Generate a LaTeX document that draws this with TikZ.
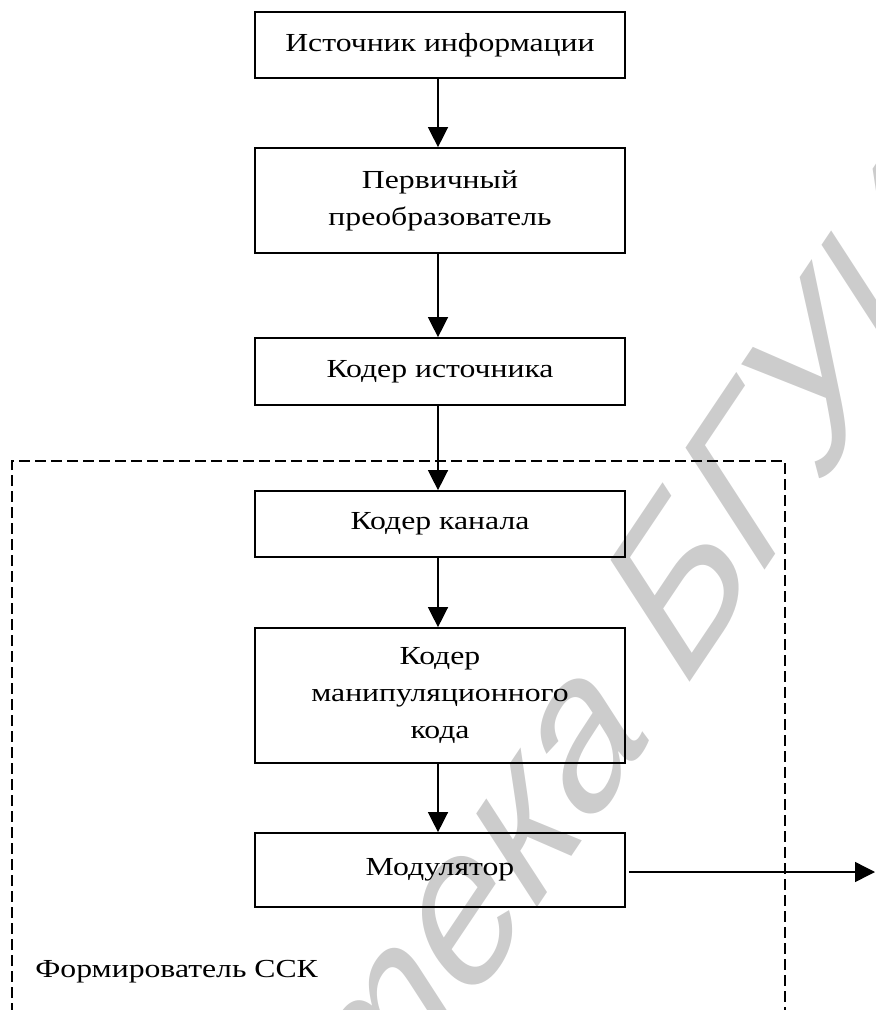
\documentclass[tikz,border=0pt]{standalone}
\usepackage{fontspec}
\setmainfont{Liberation Serif}[FakeStretch=1.22]
\newfontfamily\wmfont{Liberation Sans}
\usetikzlibrary{arrows.meta}
\begin{document}
\begin{tikzpicture}[x=0.5pt,y=-0.5pt,
  block/.style={draw,line width=0.85pt,minimum width=185pt,inner sep=0pt,
    align=center,font=\fontsize{13}{18.5}\selectfont},
  flow/.style={line width=0.7pt,-{Triangle[width=10pt,length=10pt]}},
  frame/.style={line width=0.9pt,dash pattern=on 5.5pt off 2.5pt},
  stamp/.style={text=black!20,font=\wmfont\itshape\fontsize{112}{112}\selectfont,
    anchor=base,inner sep=0pt}]
\useasboundingbox (0,0) rectangle (876,1010);

% library stamp behind the scheme
\begin{scope}[shift={(519,936)},xscale=0.8]
  \node[stamp,rotate=50,transform shape] (wm) at (0,0) {Библиотека БГУИР};
\end{scope}

% blocks of the transmitting side
\node[block,minimum height=33pt]   (src)  at (440,45)    {Источник информации};
\node[block,minimum height=52.5pt] (conv) at (440,200.5) {Первичный\\преобразователь};
\node[block,minimum height=33.5pt] (scod) at (440,371.5) {Кодер источника};
\node[block,minimum height=33pt]   (ccod) at (440,524)   {Кодер канала};
\node[block,minimum height=67.5pt] (mcod) at (440,695.5) {Кодер\\манипуляционного\\кода};
\node[block,minimum height=37pt]   (mod)  at (440,870)   {Модулятор};

% signal flow
\draw[flow] ([xshift=-1pt]src.south)  -- ([xshift=-1pt]conv.north);
\draw[flow] ([xshift=-1pt]conv.south) -- ([xshift=-1pt]scod.north);
\draw[flow] ([xshift=-1pt]scod.south) -- ([xshift=-1pt]ccod.north);
\draw[flow] ([xshift=-1pt]ccod.south) -- ([xshift=-1pt]mcod.north);
\draw[flow] ([xshift=-1pt]mcod.south) -- ([xshift=-1pt]mod.north);
\coordinate (out) at (875,872);
\draw[flow] ([xshift=1.5pt,yshift=-1pt]mod.east) -- (out);

% signal former boundary
\coordinate (fbl) at (12,1014);
\coordinate (ftl) at (12,461);
\coordinate (ftr) at (785,461);
\coordinate (fbr) at (785,1014);
\draw[frame] (fbl) -- (ftl) -- (ftr) -- (fbr);
\node[anchor=base west,inner sep=0pt,font=\fontsize{13}{18.5}\selectfont] (lbl) at (35,977) {Формирователь ССК};
\end{tikzpicture}
\end{document}
